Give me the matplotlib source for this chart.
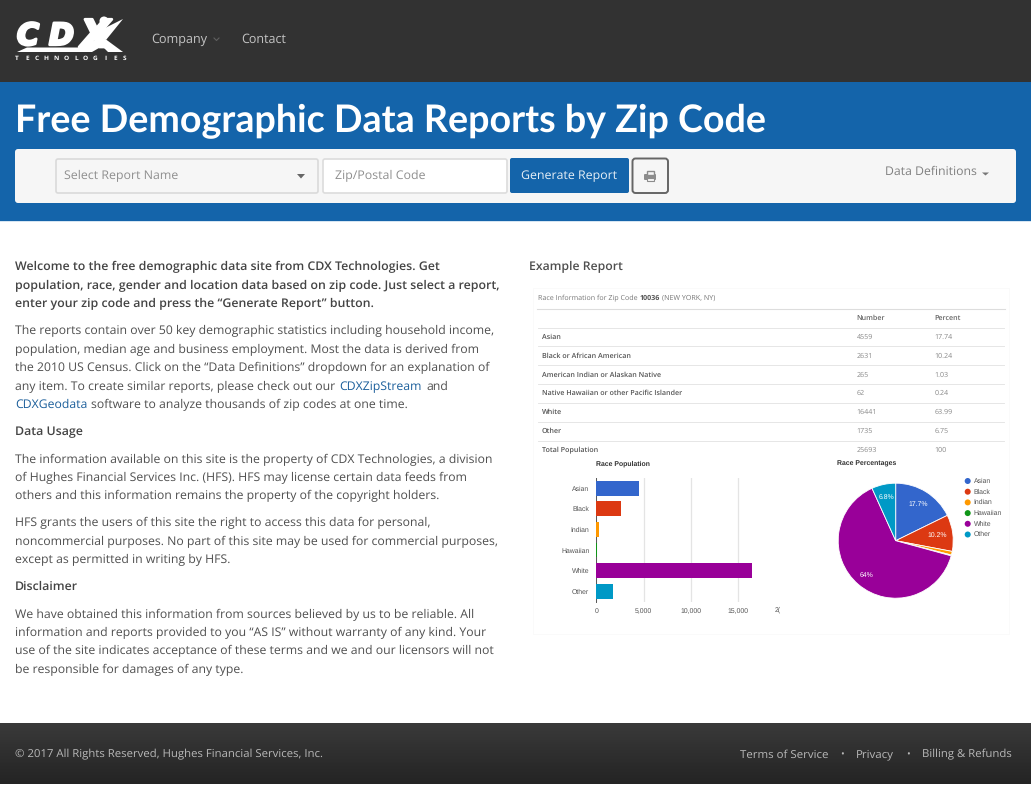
import matplotlib
matplotlib.use("Agg")
import matplotlib.pyplot as plt
import matplotlib.patheffects as pe
import numpy as np
from matplotlib.patches import Rectangle, FancyBboxPatch, Polygon, Circle

W, H = 1031, 787
FONT = "Open Sans"
CHART = ["Liberation Sans", "DejaVu Sans"]
plt.rcParams["font.family"] = [FONT, "DejaVu Sans"]
plt.rcParams["text.hinting"] = "no_hinting"

# ---- chart data ----
short_names = ["Asian", "Black", "Indian", "Hawaiian", "White", "Other"]
long_names = ["Asian", "Black or African American", "American Indian or Alaskan Native",
              "Native Hawaiian or other Pacific Islander", "White", "Other", "Total Population"]
numbers = [4559, 2631, 265, 62, 16441, 1735]
number_labels = ["4559", "2631", "265", "62", "16441", "1735", "25693"]
percent_labels = ["17.74", "10.24", "1.03", "0.24", "63.99", "6.75", "100"]
colors = ["#3366cc", "#dc3912", "#ff9900", "#109618", "#990099", "#0099c6"]
pie_labels = ["17.7%", "10.2%", "", "", "64%", "6.8%"]
x_ticks = [0, 5000, 10000, 15000]
x_tick_labels = ["0", "5,000", "10,000", "15,000"]

intro_lines = ["Welcome to the free demographic data site from CDX Technologies. Get",
               "population, race, gender and location data based on zip code. Just select a report,",
               "enter your zip code and press the \u201cGenerate Report\u201d button."]
para1 = ["The reports contain over 50 key demographic statistics including household income,",
         "population, median age and business employment. Most the data is derived from",
         "the 2010 US Census. Click on the \u201cData Definitions\u201d dropdown for an explanation of",
         "any item. To create similar reports, please check out our"]
para2 = ["The information available on this site is the property of CDX Technologies, a division",
         "of Hughes Financial Services Inc. (HFS). HFS may license certain data feeds from",
         "others and this information remains the property of the copyright holders."]
para3 = ["HFS grants the users of this site the right to access this data for personal,",
         "noncommercial purposes. No part of this site may be used for commercial purposes,",
         "except as permitted in writing by HFS."]
para4 = ["We have obtained this information from sources believed by us to be reliable. All",
         "information and reports provided to you \u201cAS IS\u201d without warranty of any kind. Your",
         "use of the site indicates acceptance of these terms and we and our licensors will not",
         "be responsible for damages of any type."]

fig = plt.figure(figsize=(W / 100, H / 100), dpi=100, facecolor="white")
pg = fig.add_axes([0, 0, 1, 1], zorder=0)
pg.set_xlim(0, W); pg.set_ylim(H, 0); pg.axis("off")

def px(v):
    return v * 72 / 100

def T(x, y, s, size=12.3, color="#4f4f4f", weight="normal", ha="left", family=None, **kw):
    return pg.text(x, y + 4.5, s, fontsize=px(size), color=color, fontweight=weight, ha=ha, va="center",
                   family=family or [FONT, "DejaVu Sans"], **kw)

def R(x0, y0, x1, y1, fc, ec="none", lw=0, z=1):
    pg.add_patch(Rectangle((x0, y0), x1 - x0, y1 - y0, fc=fc, ec=ec, lw=lw, zorder=z))

def RR(x0, y0, x1, y1, fc, ec="none", lw=0, r=3, z=2):
    pg.add_patch(FancyBboxPatch((x0 + r, y0 + r), x1 - x0 - 2 * r, y1 - y0 - 2 * r,
                                boxstyle=f"round,pad={r},rounding_size={r}", fc=fc, ec=ec, lw=lw, zorder=z))

# ---- header ----
R(0, 0, W, 82, "#323232")
R(0, 82, W, 221, "#1464aa")
R(0, 220.5, W, 222, "#d5e5f2")

# logo
thick = [pe.withStroke(linewidth=2.0, foreground="white")]
T(17, 32, "C", size=30, color="white", weight="bold", style="italic",
  family=["DejaVu Sans"], zorder=4, path_effects=thick)
T(49, 32, "D", size=30, color="white", weight="bold", style="italic",
  family=["DejaVu Sans"], zorder=4, path_effects=thick)
T(81, 32, "X", size=38, color="white", weight="bold", style="italic",
  family=["DejaVu Sans"], zorder=4, path_effects=thick)
pg.add_patch(Polygon([[17, 52], [27, 47.5], [85, 47.5], [97, 38], [106, 44], [92, 52]],
                     fc="white", ec="none", zorder=4))
pg.add_patch(Polygon([[95, 33], [123, 19], [106, 40]], fc="white", ec="none", zorder=4))
pg.add_patch(Polygon([[104, 38], [123, 52], [108, 52], [98, 42]], fc="white", ec="none", zorder=4))
pg.add_patch(Circle((104, 21), 4.5, fc="white", ec="none", zorder=5))
for i, ch in enumerate("TECHNOLOGIES"):
    T(17 + i * 9.8, 53.5, ch, size=6.5, color="white", weight="bold", ha="center", zorder=4)

T(151.5, 35, "Company", size=12.6, color="#c4c4c4")
pg.plot([214, 216.5, 219], [38, 40.5, 38], color="#5f5f5f", lw=0.8)
T(241.5, 35, "Contact", size=12.5, color="#c4c4c4")

# title bar
T(15, 117, "Free Demographic Data Reports by Zip Code", size=37.6, color="white", weight="bold",
  family=["Lato", "DejaVu Sans"])
RR(15, 149, 1016, 203, "#f6f6f6", r=3)
RR(56, 159, 318, 193, "#f6f6f6", ec="#dadada", lw=1.2, r=2, z=3)
T(64, 172, "Select Report Name", size=12.4, color="#8f8f8f", zorder=4)
pg.add_patch(Polygon([[297, 174], [305, 174], [301, 178.5]], fc="#666666", ec="none", zorder=4))
RR(323, 159, 507, 193, "white", ec="#dcdcdc", lw=1.2, r=2, z=3)
T(335, 172, "Zip/Postal Code", size=12.4, color="#8f8f8f", zorder=4)
RR(510, 158, 629, 193, "#1464aa", r=2, z=3)
T(569.5, 172, "Generate Report", size=12.4, color="#e8f0f7", ha="center", zorder=4)
RR(632.5, 158.5, 668, 193, "#f6f6f6", ec="#666666", lw=1.4, r=3, z=3)
RR(644, 174, 656, 180, "#8c8c8c", r=1, z=4)
R(646.5, 170.5, 653.5, 175, "#f6f6f6", ec="#8c8c8c", lw=1.0, z=4)
R(646.5, 177.5, 653.5, 181, "#f6f6f6", ec="#8c8c8c", lw=0.8, z=5)
T(885, 167.5, "Data Definitions", size=12.2, color="#7f7f7f", zorder=4)
pg.add_patch(Polygon([[982, 172.5], [989, 172.5], [985.5, 175.5]], fc="#777777", ec="none", zorder=4))

# ---- left text column ----
BODY = 12.3
BOLD = 12.35
for y, s in zip([262.5, 281, 299.5], intro_lines):
    T(15, y, s, size=BOLD, color="#444444", weight="semibold")
for y, s in zip([326.3, 345.3, 363.3, 382.3], para1):
    T(15, y, s, size=BODY)
T(339, 382.3, "CDXZipStream", size=BODY, color="#1c5f9b")
T(426, 382.3, "and", size=BODY)
T(15, 400.3, "CDXGeodata", size=BODY, color="#1c5f9b")
T(91, 400.3, "software to analyze thousands of zip codes at one time.", size=BODY)
T(15, 427.3, "Data Usage", size=BOLD, color="#444444", weight="semibold")
for y, s in zip([455.3, 473.3, 491.3], para2):
    T(15, y, s, size=BODY)
for y, s in zip([518.3, 537.3, 555.3], para3):
    T(15, y, s, size=BODY)
T(15, 582.3, "Disclaimer", size=BOLD, color="#444444", weight="semibold")
for y, s in zip([610.3, 628.3, 646.3, 665.3], para4):
    T(15, y, s, size=BODY)

# ---- example report ----
T(529, 262.3, "Example Report", size=12.2, color="#4f4f4f", weight="semibold")
R(532.5, 287.5, 1009, 634, "white", ec="#fafafa", lw=0.7)
T(537.5, 293.5, "Race Information for Zip Code", size=7.2, color="#777777", zorder=3)
T(639.3, 293.5, "10036", size=7.2, color="#555555", weight="bold", zorder=3)
T(662, 293.5, "(NEW YORK, NY)", size=7.2, color="#777777", zorder=3)
pg.plot([537, 1005], [308.5, 308.5], color="#dddddd", lw=0.8, zorder=3)
T(856.5, 313.5, "Number", size=7.2, color="#666666", weight="semibold", zorder=3)
T(934.6, 313.5, "Percent", size=7.2, color="#666666", weight="semibold", zorder=3)
row_y = 337 + 18.85 * np.arange(len(long_names))
for y, a, b, c in zip(row_y, long_names, number_labels, percent_labels):
    T(541.5, y - 4.5, a, size=7.2, color="#555555", weight="semibold", zorder=3)
    T(856.5, y - 4.5, b, size=7.2, color="#888888", zorder=3)
    T(934.6, y - 4.5, c, size=7.2, color="#888888", zorder=3)
    pg.plot([538, 1004], [y - 9.4, y - 9.4], color="#e6e6e6", lw=0.7, zorder=3)

# bar chart
CH = 6.9
x0, x5k, ytop, ybot = 596.3, 643.6, 478, 601.5
scale = (x5k - x0) / 5000
xmax = (778 - x0) / scale
ax = fig.add_axes([x0 / W, 1 - ybot / H, (778 - x0) / W, (ybot - ytop) / H], zorder=2)
ax.patch.set_alpha(0)
pos = np.arange(len(numbers))
ax.barh(pos, numbers, height=0.72, color=colors, zorder=3)
ax.set_xlim(0, xmax); ax.set_ylim(len(numbers) - 0.5, -0.5)
ax.set_xticks(x_ticks); ax.set_xticklabels(x_tick_labels, family=CHART)
ax.set_yticks(pos); ax.set_yticklabels(short_names, family=CHART)
ax.tick_params(length=0, labelsize=px(CH), labelcolor="#555555", pad=5)
ax.tick_params(axis="x", pad=4.5)
ax.xaxis.grid(True, color="#e4e4e4", lw=0.9, zorder=0); ax.set_axisbelow(True)
for s in ["top", "right", "bottom"]:
    ax.spines[s].set_visible(False)
ax.spines["left"].set_color("#555555"); ax.spines["left"].set_linewidth(0.7)
T(596, 459.5, "Race Population", size=CH, color="#333333", weight="bold", zorder=3, family=CHART)
T(775, 605.5, "2(", size=CH, color="#555555", zorder=3, family=CHART)

# pie chart
cx, cy, rad = 895.7, 540.7, 57.5
ax2 = fig.add_axes([(cx - rad) / W, 1 - (cy + rad) / H, 2 * rad / W, 2 * rad / H], zorder=2)
ax2.patch.set_alpha(0)
wedges, _ = ax2.pie(numbers, colors=colors, startangle=90, counterclock=False, radius=1,
                    wedgeprops=dict(edgecolor="white", linewidth=0.6))
ax2.set_xlim(-1, 1); ax2.set_ylim(-1, 1)
for w, lab, dist in zip(wedges, pie_labels, [0.75, 0.72, 0, 0, 0.78, 0.78]):
    if lab:
        th = np.deg2rad((w.theta1 + w.theta2) / 2)
        ax2.text(dist * np.cos(th), dist * np.sin(th), lab, color="white", fontsize=px(CH),
                 ha="center", va="center", family=CHART)
T(837, 459.5, "Race Percentages", size=CH, color="#333333", weight="bold", zorder=3, family=CHART)
for i, (n, c) in enumerate(zip(short_names, colors)):
    y = 481 + i * 10.7
    pg.add_patch(Circle((967.7, y), 3.0, fc=c, ec="none", zorder=3))
    T(973.5, y - 4.5, n, size=CH, color="#555555", zorder=3, family=CHART)

# ---- footer ----
grad = np.linspace(0, 1, 64)[:, None]
rgb = np.array([0x3a, 0x3a, 0x3a]) * (1 - grad)[..., None] + np.array([0x24, 0x24, 0x24]) * grad[..., None]
pg.imshow(rgb.astype(np.uint8), extent=(0, W, 784, 723), aspect="auto", zorder=1)
pg.set_xlim(0, W); pg.set_ylim(H, 0)
T(15, 750.3, "\u00a9 2017 All Rights Reserved, Hughes Financial Services, Inc.", size=11.4, color="#b8b8b8", zorder=3)
T(740, 750.3, "Terms of Service", size=11.5, color="#b8b8b8", zorder=3)
T(842, 750.3, "\u2022", size=10, color="#b8b8b8", ha="center", zorder=3)
T(856, 750.3, "Privacy", size=11.5, color="#b8b8b8", zorder=3)
T(908, 750.3, "\u2022", size=10, color="#b8b8b8", ha="center", zorder=3)
T(921.5, 750.3, "Billing & Refunds", size=11.4, color="#b8b8b8", zorder=3)

fig.savefig("out.png", dpi=100)
